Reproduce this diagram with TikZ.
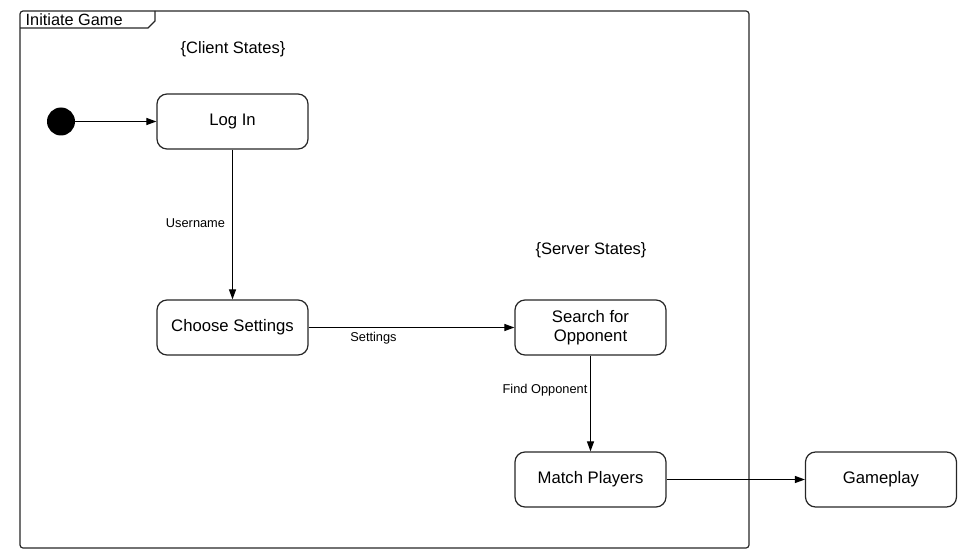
\documentclass[tikz,border=0pt]{standalone}
\usepackage{fontspec}
\setmainfont{Liberation Sans}
\usetikzlibrary{arrows.meta}
\begin{document}
\begin{tikzpicture}[x=1pt,y=-1pt,
  statebox/.style={draw=black!85,line width=1.2pt,rounded corners=10pt,minimum width=151pt,minimum height=55pt,font=\fontsize{16.7}{19}\selectfont,align=center,inner sep=0pt},
  conn/.style={line width=1.1pt,-{Triangle[length=10pt,width=7pt]}},
  lbl/.style={font=\fontsize{12.8}{14}\selectfont,inner sep=0pt},
  note/.style={font=\fontsize{16.5}{18}\selectfont,inner sep=0pt}]
\useasboundingbox (0,0) rectangle (975,559);
% frame
\draw[line width=1.2pt,black!85,rounded corners=3pt] (20,11) rectangle (749,548);
\draw[line width=1.1pt,black!85] (20,28) -- (148,28) -- (155,21) -- (155,11);
\node[font=\fontsize{16.3}{18}\selectfont,anchor=west,inner sep=0pt] (title) at (25.5,19.5) {Initiate Game};
\node[note] (client) at (233,49) {\{Client States\}};
\node[note] (server) at (591,250) {\{Server States\}};
% states
\node[circle,fill=black,minimum size=28pt,inner sep=0pt] (init) at (61,121.5) {};
\node[statebox] (login) at (232.5,121.5) {Log In};
\node[statebox] (choose) at (232.5,327.5) {Choose Settings};
\node[statebox] (search) at (590.5,327.5) {Search for\\Opponent};
\node[statebox] (match) at (590.5,479.5) {Match Players};
\node[statebox] (game) at (881,479.5) {Gameplay};
% connectors
\draw[conn] (init) -- (login);
\draw[conn] (login) -- (choose);
\draw[conn] (choose) -- (search);
\draw[conn] (search) -- (match);
\draw[conn] (match) -- (game);
% labels
\node[lbl] (l1) at (195.5,223.5) {Username};
\node[lbl] (l2) at (373.5,338.5) {Settings};
\node[lbl] (l3) at (545,390) {Find Opponent};
\end{tikzpicture}
\end{document}
